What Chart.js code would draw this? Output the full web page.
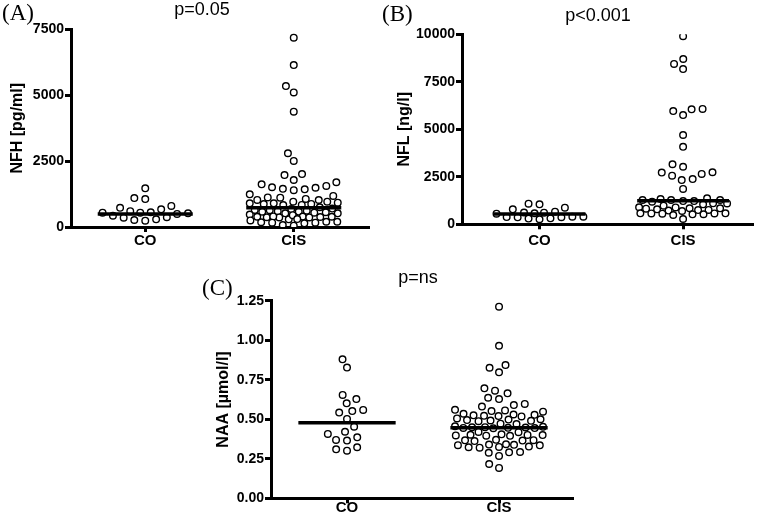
<!DOCTYPE html>
<html>
<head>
<meta charset="utf-8">
<script src="https://cdn.jsdelivr.net/npm/chart.js@4.4.0/dist/chart.umd.min.js"></script>
<style>
  body { margin: 0; background: #fff; }
  #wrap { position: relative; width: 760px; height: 520px; overflow: hidden; }
  .panel { position: absolute; }
  .lbl { position: absolute; font-family: 'Liberation Serif', 'Times New Roman', serif; font-size: 23px; line-height: 23px; color: #000; }
  .pval { position: absolute; font-family: 'Liberation Sans', Arial, sans-serif; font-size: 18px; line-height: 18px; color: #000; transform: translateX(-50%); white-space: nowrap; }
</style>
</head>
<body>
<div id="wrap">
  <div class="panel" style="left:0;top:0"><canvas id="chartA" width="380" height="250"></canvas></div>
  <div class="panel" style="left:380px;top:0"><canvas id="chartB" width="380" height="250"></canvas></div>
  <div class="panel" style="left:190px;top:250px"><canvas id="chartC" width="400" height="270"></canvas></div>
  <div class="lbl" style="left:2px;top:1px">(A)</div>
  <div class="pval" style="left:202px;top:0px">p=0.05</div>
  <div class="lbl" style="left:382px;top:2px">(B)</div>
  <div class="pval" style="left:598px;top:6px">p&lt;0.001</div>
  <div class="lbl" style="left:202px;top:276px">(C)</div>
  <div class="pval" style="left:418px;top:268px">p=ns</div>
</div>
<script>
const categories = ['CO', 'CIS'];

// (A) NFH [pg/ml]
const nfhCO = [1470, 1100, 1060, 800, 730, 670, 560, 545, 545, 520, 600, 495, 370, 290, 240, 265, 355, 430];
const nfhCIS = [7190, 6150, 5350, 5110, 4380, 2800, 2510, 1970, 2010,
  1785, 1700, 1620, 1560, 1490, 1430, 1400, 1450, 1510,
  1240, 1115, 1025, 960, 1030, 1065, 1125, 1180,
  925, 875, 835, 960, 900, 870, 840, 750, 900,
  620, 580, 545, 585, 520, 645, 560, 600, 520, 640, 700, 680,
  390, 365, 395, 370, 390, 380, 365, 400, 290, 450, 470, 300, 250,
  200, 165, 140, 165, 200, 180, 75, 50];
const nfhMedians = [490, 730];
const nfhTicks = [0, 2500, 5000, 7500];

// (B) NFL [ng/l]
const nflCO = [1050, 1085, 875, 790, 665, 610, 580, 620, 560, 400, 365, 370, 265, 315, 380, 400, 300];
const nflCIS = [9900, 8440, 8700, 8170, 6070, 6050, 5960, 5750, 4700, 4080, 3160, 3030, 2740, 2720, 2650, 2560, 2380, 2330, 1860,
  1330, 1280, 1225, 1280, 1370, 1280, 1190, 1225,
  1105, 1100, 1050, 980,
  895, 840, 790, 755, 720, 845, 890, 750, 820, 700,
  580, 525, 490, 575, 530, 580, 575, 560,
  280];
const nflMedians = [540, 1240];
const nflTicks = [0, 2500, 5000, 7500, 10000];

// (C) NAA [µmol/l]
const naaCO = [0.879, 0.827, 0.654, 0.628, 0.601, 0.552, 0.542, 0.559, 0.502, 0.453, 0.407, 0.421, 0.386, 0.369, 0.365, 0.323, 0.301, 0.310];
const naaCIS = [1.212, 0.965, 0.843, 0.826, 0.797, 0.696, 0.681, 0.664, 0.636, 0.628, 0.597, 0.590, 0.580,
  0.556, 0.552, 0.548, 0.560,
  0.530, 0.522, 0.525, 0.535, 0.518, 0.528, 0.520,
  0.500, 0.490, 0.498, 0.505, 0.492, 0.495, 0.488,
  0.470, 0.472,
  0.450, 0.445, 0.448, 0.455, 0.452, 0.446, 0.444, 0.449, 0.443,
  0.418, 0.420,
  0.400, 0.395, 0.402, 0.398, 0.405, 0.396, 0.401,
  0.367, 0.365, 0.370, 0.362, 0.368,
  0.338, 0.340, 0.335, 0.342, 0.336,
  0.323, 0.325, 0.320, 0.327,
  0.291, 0.293, 0.288,
  0.268,
  0.192, 0.217];
const naaMedians = [0.478, 0.447];
const naaTicks = [0, 0.25, 0.5, 0.75, 1, 1.25];

const sans = "'Liberation Sans', Arial, Helvetica, sans-serif";

// greedy beeswarm limited to a column width; where the column is full,
// the dot goes to the spot where it overlaps its neighbours least
function swarmOffsets(values, yScale, sx, sy, maxHalf) {
  const order = values.map((v, i) => i).sort((a, b) => values[a] - values[b]);
  const placed = [];
  const out = new Array(values.length).fill(0);
  const dist = (c, py, p) => ((c - p.x) / sx) ** 2 + ((py - p.y) / sy) ** 2;
  order.forEach(i => {
    const py = yScale.getPixelForValue(values[i]);
    const near = placed.filter(p => Math.abs(p.y - py) < sy);
    const cands = [0];
    near.forEach(p => {
      const dx = sx * Math.sqrt(1 - ((p.y - py) / sy) ** 2);
      cands.push(p.x - dx, p.x + dx);
    });
    let best = cands.filter(c => Math.abs(c) <= maxHalf)
      .sort((a, b) => Math.abs(a) - Math.abs(b))
      .find(c => near.every(p => dist(c, py, p) >= 0.999));
    if (best === undefined) {
      let score = -1;
      for (let c = 0; c <= maxHalf; c += 0.5) {
        [c, -c].forEach(cc => {
          const s = Math.min(...near.map(p => dist(cc, py, p)));
          if (s > score + 1e-6) { score = s; best = cc; }
        });
      }
    }
    placed.push({ x: best, y: py });
    out[i] = best;
  });
  return out;
}

function makePanel(id, o) {
  const half = 0.32;
  const medianSets = o.medians.map((m, g) => ({
    type: 'line',
    data: [{ x: g + 1 - half, y: m }, { x: g + 1 + half, y: m }],
    borderColor: '#000',
    borderWidth: 3.5,
    pointRadius: 0,
    borderCapStyle: 'butt'
  }));
  const dotSets = [o.co, o.cis].map((vals, g) => ({
    type: 'scatter',
    data: vals.map(v => ({ x: g + 1, y: v })),
    pointRadius: 3.3,
    pointBorderWidth: 1.4,
    pointBorderColor: '#000',
    pointBackgroundColor: '#fff'
  }));

  const chart = new Chart(document.getElementById(id), {
    type: 'scatter',
    data: { datasets: medianSets.concat(dotSets) },
    options: {
      responsive: false,
      animation: false,
      layout: { padding: o.padding },
      plugins: { legend: { display: false }, tooltip: { enabled: false } },
      scales: {
        x: {
          type: 'linear',
          min: o.xMin,
          max: o.xMax,
          afterBuildTicks: axis => { axis.ticks = [{ value: 1 }, { value: 2 }]; },
          afterFit: s => { s.height = o.xHeight; },
          ticks: {
            autoSkip: false,
            color: '#000',
            padding: o.xPad,
            font: { family: sans, size: 15, weight: 700, lineHeight: 1 },
            callback: v => categories[v - 1]
          },
          grid: { drawOnChartArea: false, drawTicks: true, tickLength: 5, color: '#000', lineWidth: 3 },
          border: { display: true, color: '#000', width: 3 }
        },
        y: {
          min: o.ticks[0],
          max: o.ticks[o.ticks.length - 1],
          afterBuildTicks: axis => { axis.ticks = o.ticks.map(v => ({ value: v })); },
          afterFit: s => { s.width = o.yWidth; },
          ticks: {
            color: '#000',
            padding: 1,
            font: { family: sans, size: 14, weight: 700 },
            callback: v => v.toFixed(o.decimals)
          },
          title: {
            display: true,
            text: o.yTitle,
            color: '#000',
            padding: { top: o.titlePad, bottom: 0 },
            font: { family: sans, size: 16, weight: 700 }
          },
          grid: { drawOnChartArea: false, drawTicks: true, tickLength: 6, color: '#000', lineWidth: 3 },
          border: { display: true, color: '#000', width: 3 }
        }
      }
    }
  });

  const xs = chart.scales.x, ys = chart.scales.y;
  const unit = xs.getPixelForValue(2) - xs.getPixelForValue(1);
  [o.co, o.cis].forEach((vals, g) => {
    const offs = swarmOffsets(vals, ys, 11, 9, 44);
    chart.data.datasets[2 + g].data = vals.map((v, i) => ({ x: g + 1 + offs[i] / unit, y: v }));
  });
  chart.update('none');
  return chart;
}

makePanel('chartA', {
  co: nfhCO, cis: nfhCIS, medians: nfhMedians, ticks: nfhTicks, decimals: 0,
  yTitle: 'NFH [pg/ml]', yWidth: 71, titlePad: 8, xHeight: 23, xPad: 1.5,
  padding: { left: 0, top: 29.5, right: 12, bottom: 0 }, xMin: 0.5, xMax: 2.5
});

makePanel('chartB', {
  co: nflCO, cis: nflCIS, medians: nflMedians, ticks: nflTicks, decimals: 0,
  yTitle: 'NFL [ng/l]', yWidth: 82, titlePad: 14.5, xHeight: 25.7, xPad: 4,
  padding: { left: 0, top: 34.3, right: 8, bottom: 0 }, xMin: 0.46, xMax: 2.48
});

makePanel('chartC', {
  co: naaCO, cis: naaCIS, medians: naaMedians, ticks: naaTicks, decimals: 2,
  yTitle: 'NAA [µmol/l]', yWidth: 81, titlePad: 23.5, xHeight: 21.7, xPad: -3,
  padding: { left: 0, top: 50.7, right: 18, bottom: 0 }, xMin: 0.5, xMax: 2.48
});
</script>
</body>
</html>
